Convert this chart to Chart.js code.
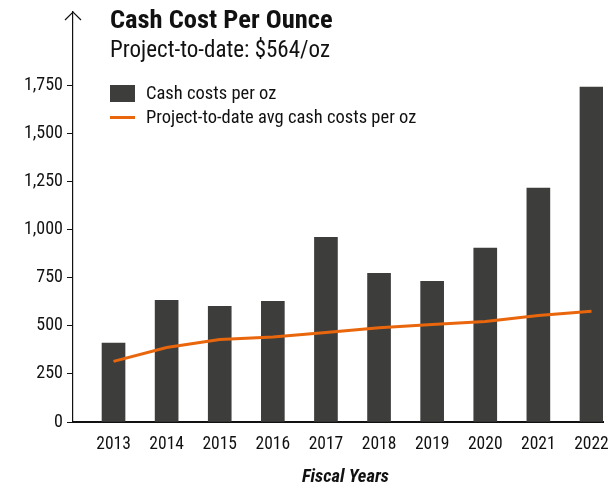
<!DOCTYPE html>
<html>
<head>
<meta charset="utf-8">
<script src="https://cdn.jsdelivr.net/npm/chart.js@4"></script>
<style>
  html,body{margin:0;padding:0;background:#fff;overflow:hidden;}
  #wrap{position:relative;width:611px;height:489px;font-family:"Roboto Condensed",sans-serif;color:#111;}
  canvas{position:absolute;left:0;top:0;}
  .t{position:absolute;white-space:nowrap;line-height:1;}
  #title{left:110px;top:6px;font-size:26.5px;font-weight:700;}
  #subtitle{left:110px;top:38px;font-size:23px;font-weight:400;}
  .legtxt{position:absolute;left:146px;font-size:18.5px;line-height:1;white-space:nowrap;}
  .sw{position:absolute;left:110px;width:25px;}
  #xtitle{left:245.5px;width:200px;top:467px;text-align:center;font-size:18.5px;font-weight:700;font-style:italic;}
</style>
</head>
<body>
<div id="wrap">
  <canvas id="c" width="611" height="489"></canvas>
  <div class="t" id="title"></div>
  <div class="t" id="subtitle"></div>
  <div id="legend"></div>
  <div class="t" id="xtitle"></div>
</div>
<script>
const titleText = "Cash Cost Per Ounce";
const subtitleText = "Project-to-date: $564/oz";
const xAxisTitle = "Fiscal Years";
const categories = ["2013","2014","2015","2016","2017","2018","2019","2020","2021","2022"];
const cashCosts = [410, 632, 601, 627, 960, 773, 731, 903, 1215, 1740];
const ptdAvg = [315, 387, 428, 442, 465, 490, 506, 522, 553, 575];
const seriesNames = ["Cash costs per oz", "Project-to-date avg cash costs per oz"];
const yTickMax = 1750;
const barColor = "#3d3d3b";
const lineColor = "#e9660c";
const FONT = '"Roboto Condensed", sans-serif';

document.getElementById('title').textContent = titleText;
document.getElementById('subtitle').textContent = subtitleText;
document.getElementById('xtitle').textContent = xAxisTitle;

const legend = document.getElementById('legend');
const sw1 = document.createElement('div');
sw1.className = 'sw';
sw1.style.top = '85px'; sw1.style.height = '17px'; sw1.style.background = barColor;
legend.appendChild(sw1);
const t1 = document.createElement('div');
t1.className = 'legtxt'; t1.style.top = '84.4px'; t1.textContent = seriesNames[0];
legend.appendChild(t1);
const sw2 = document.createElement('div');
sw2.className = 'sw';
sw2.style.top = '116px'; sw2.style.height = '3px'; sw2.style.background = lineColor;
legend.appendChild(sw2);
const t2 = document.createElement('div');
t2.className = 'legtxt'; t2.style.top = '108.2px'; t2.textContent = seriesNames[1];
legend.appendChild(t2);

const arrowPlugin = {
  id: 'arrow',
  afterDraw(chart) {
    const ctx = chart.ctx;
    const x = chart.chartArea.left;
    const top = chart.chartArea.top;
    ctx.save();
    ctx.strokeStyle = '#111';
    ctx.lineWidth = 1.2;
    ctx.beginPath();
    ctx.moveTo(x - 8, top + 8);
    ctx.lineTo(x, top);
    ctx.lineTo(x + 8, top + 8);
    ctx.stroke();
    ctx.restore();
  }
};

new Chart(document.getElementById('c'), {
  type: 'bar',
  data: {
    datasets: [
      {
        type: 'line',
        label: seriesNames[1],
        data: ptdAvg.map((v, i) => ({x: i, y: v})),
        borderColor: lineColor,
        borderWidth: 3,
        pointRadius: 0,
        tension: 0,
        order: 0
      },
      {
        type: 'bar',
        label: seriesNames[0],
        data: cashCosts.map((v, i) => ({x: i, y: v})),
        backgroundColor: barColor,
        barThickness: 23,
        order: 1
      }
    ]
  },
  options: {
    responsive: false,
    animation: false,
    layout: {padding: {top: 12, right: 8, left: 0, bottom: 0}},
    plugins: {legend: {display: false}, tooltip: {enabled: false}},
    scales: {
      x: {
        type: 'linear',
        offset: false,
        min: -0.763,
        max: 9.217,
        grid: {display: false, drawTicks: false},
        border: {display: true, color: '#111', width: 2},
        ticks: {
          stepSize: 1,
          includeBounds: false,
          autoSkip: false,
          maxRotation: 0,
          padding: 12,
          color: '#111',
          font: {family: FONT, size: 17.5},
          callback: v => categories[v]
        },
        afterFit(s) { s.height = 67; s.paddingLeft = 0; s.paddingRight = 0; }
      },
      y: {
        min: 0,
        max: 2130,
        grid: {display: true, drawOnChartArea: false, drawTicks: true, tickLength: 6, color: '#111', lineWidth: 1},
        border: {display: true, color: '#111', width: 1.2},
        ticks: {
          stepSize: 250,
          includeBounds: false,
          padding: 4,
          color: '#111',
          font: {family: FONT, size: 18},
          callback: v => v.toLocaleString('en-US')
        },
        afterBuildTicks(s) { s.ticks = s.ticks.filter(t => t.value <= yTickMax); },
        afterFit(s) { s.width = 73; s.paddingTop = 0; s.paddingBottom = 0; }
      }
    }
  },
  plugins: [arrowPlugin]
});
</script>
</body>
</html>
